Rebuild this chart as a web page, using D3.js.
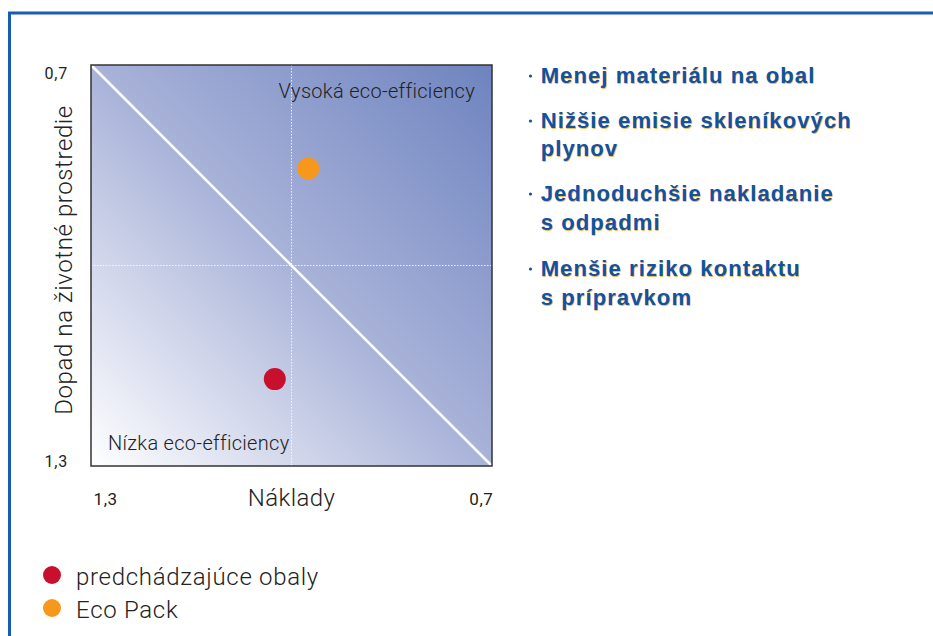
<!DOCTYPE html>
<html>
<head>
<meta charset="utf-8">
<script src="https://cdn.jsdelivr.net/npm/d3@7"></script>
<style>
  body { margin: 0; background: #fff; }
  svg { display: block; }
</style>
</head>
<body>
<svg></svg>
<script>
"use strict";

// data
var seriesNames = ["predchádzajúce obaly", "Eco Pack"];
var seriesColors = ["#c8102e", "#f7981d"];
var costValues = [1.025, 0.975];     // Náklady (x)
var impactValues = [1.17, 0.855];    // Dopad na životné prostredie (y)
var tickValues = [1.3, 0.7];
var quadrantLabels = ["Vysoká eco-efficiency", "Nízka eco-efficiency"];
var bulletLines = [
    ["Menej materiálu na obal"],
    ["Nižšie emisie skleníkových", "plynov"],
    ["Jednoduchšie nakladanie", "s odpadmi"],
    ["Menšie riziko kontaktu", "s prípravkom"]
];

var width = 933,
    height = 636;

var svg = d3.select("svg")
    .attr("width", width)
    .attr("height", height);

var lightFont = "Roboto, 'Liberation Sans', sans-serif";
var boldFont = "'Liberation Sans', Arial, sans-serif";

// frame lines
svg.append("path")
    .attr("d", "M9.5,636 L9.5,13 L933,13")
    .attr("fill", "none")
    .attr("stroke", "#175db0")
    .attr("stroke-width", 3);

var x = d3.scaleLinear().domain([1.3, 0.7]).range([91, 492]);
var y = d3.scaleLinear().domain([0.7, 1.3]).range([65, 466]);

// gradient background
var defs = svg.append("defs");
var grad = defs.append("linearGradient")
    .attr("id", "bg")
    .attr("x1", "0").attr("y1", "1")
    .attr("x2", "1").attr("y2", "0");
grad.append("stop").attr("offset", "0").attr("stop-color", "#ffffff");
grad.append("stop").attr("offset", "0.5").attr("stop-color", "#a9b3d9");
grad.append("stop").attr("offset", "1").attr("stop-color", "#6e83bf");

svg.append("rect")
    .attr("x", x(1.3)).attr("y", y(0.7))
    .attr("width", x(0.7) - x(1.3))
    .attr("height", y(1.3) - y(0.7))
    .attr("fill", "url(#bg)");

// dotted mid lines
svg.append("line")
    .attr("x1", x(1.0)).attr("x2", x(1.0))
    .attr("y1", y(0.7)).attr("y2", y(1.3))
    .attr("stroke", "#ffffff").attr("stroke-opacity", 0.8)
    .attr("stroke-width", 1).attr("stroke-dasharray", "1.5,1.5");
svg.append("line")
    .attr("x1", x(1.3)).attr("x2", x(0.7))
    .attr("y1", y(1.0)).attr("y2", y(1.0))
    .attr("stroke", "#ffffff").attr("stroke-opacity", 0.8)
    .attr("stroke-width", 1).attr("stroke-dasharray", "1.5,1.5");

// diagonal
svg.append("line")
    .attr("x1", x(1.3)).attr("y1", y(0.7))
    .attr("x2", x(0.7)).attr("y2", y(1.3))
    .attr("stroke", "#ffffff")
    .attr("stroke-width", 2.5);

// border
svg.append("rect")
    .attr("x", x(1.3)).attr("y", y(0.7))
    .attr("width", x(0.7) - x(1.3))
    .attr("height", y(1.3) - y(0.7))
    .attr("fill", "none")
    .attr("stroke", "#333")
    .attr("stroke-width", 1.5);

// quadrant labels
svg.append("text")
    .attr("x", 475).attr("y", 98)
    .attr("text-anchor", "end")
    .attr("font-family", lightFont).attr("font-weight", 300)
    .attr("font-size", 20).attr("letter-spacing", 0.3).attr("fill", "#222")
    .text(quadrantLabels[0]);
svg.append("text")
    .attr("x", 108).attr("y", 450)
    .attr("font-family", lightFont).attr("font-weight", 300)
    .attr("font-size", 20).attr("letter-spacing", 0.3).attr("fill", "#222")
    .text(quadrantLabels[1]);

// axes
var fmt = function (d) { return d3.format(".1f")(d).replace(".", ","); };

var yAxis = svg.append("g")
    .attr("transform", "translate(68,0)")
    .call(d3.axisLeft(y).tickValues(tickValues).tickSize(0).tickPadding(0).tickFormat(fmt));
yAxis.select(".domain").remove();
yAxis.selectAll("text")
    .attr("font-family", lightFont).attr("font-size", 16).attr("letter-spacing", 0.8)
    .attr("fill", "#222")
    .attr("dy", function (d) { return d === 0.7 ? 13 : 0; });

var xAxis = svg.append("g")
    .attr("transform", "translate(0," + (y(1.3) + 39) + ")")
    .call(d3.axisBottom(x).tickValues(tickValues).tickSize(0).tickPadding(0).tickFormat(fmt));
xAxis.select(".domain").remove();
xAxis.selectAll("text")
    .attr("font-family", lightFont).attr("font-size", 17).attr("letter-spacing", 0.6)
    .attr("fill", "#222")
    .attr("dy", 0)
    .attr("text-anchor", function (d) { return d === 1.3 ? "start" : "end"; })
    .attr("dx", function (d) { return d === 1.3 ? 2 : 1; });

svg.append("text")
    .attr("x", x(1.0)).attr("y", 506)
    .attr("text-anchor", "middle")
    .attr("font-family", lightFont).attr("font-weight", 300)
    .attr("font-size", 24).attr("letter-spacing", 0.4).attr("fill", "#222")
    .text("Náklady");

svg.append("text")
    .attr("transform", "translate(72,260) rotate(-90)")
    .attr("text-anchor", "middle")
    .attr("font-family", lightFont).attr("font-weight", 300)
    .attr("font-size", 24).attr("letter-spacing", 0.6).attr("fill", "#222")
    .text("Dopad na životné prostredie");

// points
svg.selectAll("circle.pt")
    .data(seriesNames)
    .enter().append("circle")
    .attr("class", "pt")
    .attr("cx", function (d, i) { return x(costValues[i]); })
    .attr("cy", function (d, i) { return y(impactValues[i]); })
    .attr("r", 11)
    .attr("fill", function (d, i) { return seriesColors[i]; });

// bullet list
var lineY = [83, 128, 156, 201, 230, 276, 305];
var k = 0;
var bullets = svg.append("g");
bulletLines.forEach(function (lines) {
    bullets.append("circle")
        .attr("cx", 530.5).attr("cy", lineY[k] - 7)
        .attr("r", 1.6).attr("fill", "#1153a3");
    lines.forEach(function (line) {
        bullets.append("text")
            .attr("x", 541.5).attr("y", lineY[k] + 0.8)
            .attr("font-family", boldFont).attr("font-weight", 700)
            .attr("font-size", 22).attr("letter-spacing", 1.1)
            .attr("fill", "#f5a623").attr("fill-opacity", 0.75)
            .text(line);
        bullets.append("text")
            .attr("x", 540.7).attr("y", lineY[k])
            .attr("font-family", boldFont).attr("font-weight", 700)
            .attr("font-size", 22).attr("letter-spacing", 1.1)
            .attr("fill", "#1153a3")
            .text(line);
        k++;
    });
});

// legend
var legend = svg.selectAll("g.legend")
    .data(seriesNames)
    .enter().append("g")
    .attr("class", "legend")
    .attr("transform", function (d, i) { return "translate(52," + (575 + i * 33) + ")"; });
legend.append("circle")
    .attr("r", 9)
    .attr("fill", function (d, i) { return seriesColors[i]; });
legend.append("text")
    .attr("x", 24).attr("y", 9.5)
    .attr("font-family", lightFont).attr("font-weight", 300)
    .attr("font-size", 24).attr("letter-spacing", 0.7).attr("fill", "#222")
    .text(function (d) { return d; });
</script>
</body>
</html>
